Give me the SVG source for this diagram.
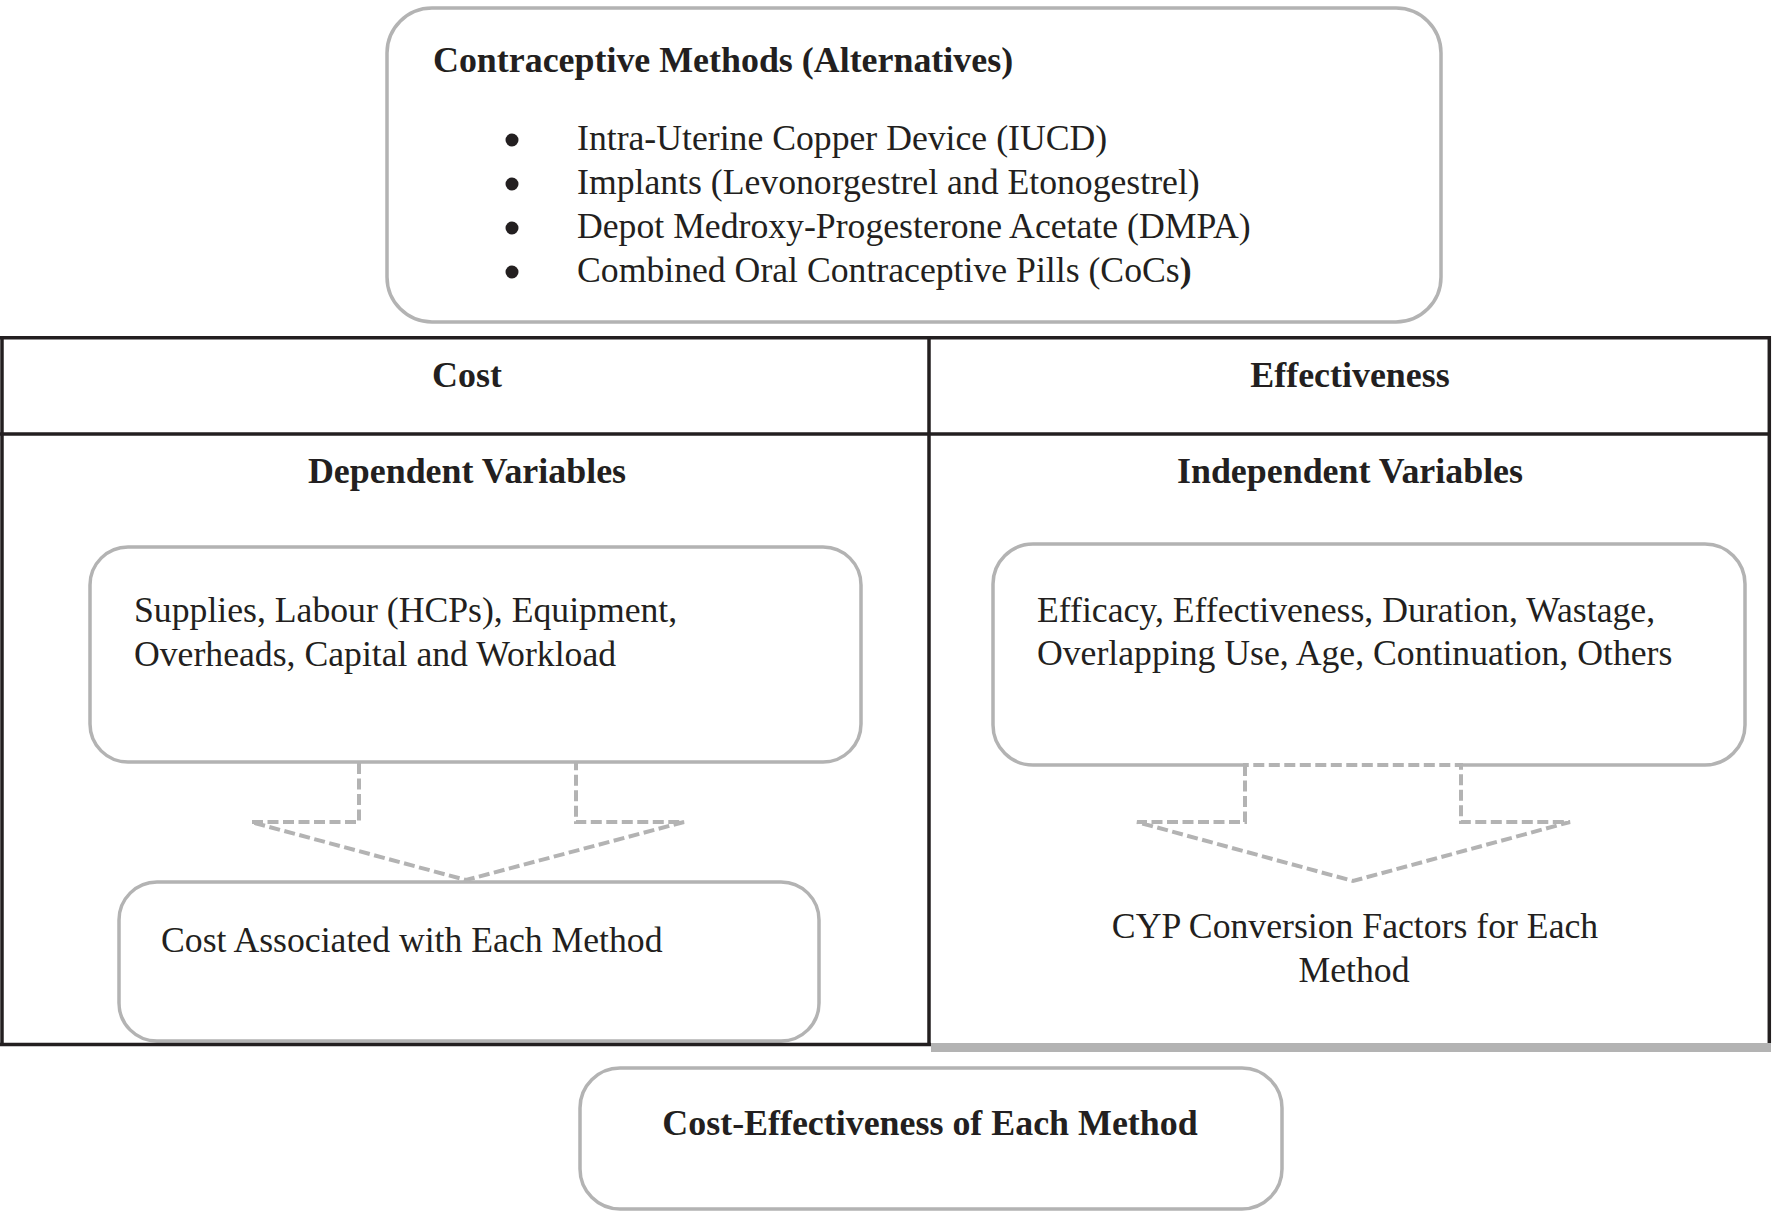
<svg xmlns="http://www.w3.org/2000/svg" width="1776" height="1212" viewBox="0 0 1776 1212">
<style>
  .box { fill: #ffffff; stroke: #b3b3b3; stroke-width: 3.5; }
  .tbl { stroke: #231f20; stroke-width: 3.5; fill: none; }
  .t { font-family: "Liberation Serif", "Times New Roman", serif; font-size: 35.7px; fill: #231f20; }
  .b { font-weight: bold; font-size: 35.9px; }
  .mid { text-anchor: middle; }
  .dash { fill: none; stroke: #b3b3b3; stroke-width: 4; stroke-dasharray: 11 4.5; }
</style>
<rect width="1776" height="1212" fill="#ffffff"/>

<g id="alternatives">
  <rect class="box" x="387" y="8" width="1054" height="314" rx="45" ry="45"/>
  <text class="t b" x="433" y="72">Contraceptive Methods (Alternatives)</text>
  <circle cx="512" cy="140" r="6.5" fill="#231f20"/>
  <circle cx="512" cy="184" r="6.5" fill="#231f20"/>
  <circle cx="512" cy="228" r="6.5" fill="#231f20"/>
  <circle cx="512" cy="272" r="6.5" fill="#231f20"/>
  <text class="t" x="577" y="150">Intra-Uterine Copper Device (IUCD)</text>
  <text class="t" x="577" y="194">Implants (Levonorgestrel and Etonogestrel)</text>
  <text class="t" x="577" y="238">Depot Medroxy-Progesterone Acetate (DMPA)</text>
  <text class="t" x="577" y="282">Combined Oral Contraceptive Pills (CoCs<tspan font-weight="bold">)</tspan></text>
</g>

<g id="table">
  <line class="tbl" x1="0" y1="337.7" x2="1771" y2="337.7"/>
  <line class="tbl" x1="0" y1="434" x2="1771" y2="434"/>
  <line class="tbl" x1="2" y1="336" x2="2" y2="1046"/>
  <line class="tbl" x1="929" y1="336" x2="929" y2="1046"/>
  <line class="tbl" x1="1769.3" y1="336" x2="1769.3" y2="1043"/>
  <text class="t b mid" x="467" y="387">Cost</text>
  <text class="t b mid" x="1350" y="387">Effectiveness</text>
  <text class="t b mid" x="467" y="483">Dependent Variables</text>
  <text class="t b mid" x="1350" y="483">Independent Variables</text>
</g>

<g id="cost-inputs">
  <rect class="box" x="90" y="547" width="771" height="215" rx="38" ry="38"/>
  <text class="t" x="134" y="622">Supplies, Labour (HCPs), Equipment,</text>
  <text class="t" x="134" y="666">Overheads, Capital and Workload</text>
</g>

<g id="cost-output">
  <rect class="box" x="119" y="882" width="700" height="159" rx="38" ry="38"/>
  <text class="t" x="161" y="952">Cost Associated with Each Method</text>
</g>

<g id="effect-inputs">
  <rect class="box" x="993" y="544" width="752" height="221" rx="40" ry="40"/>
  <text class="t" x="1037" y="622">Efficacy, Effectiveness, Duration, Wastage,</text>
  <text class="t" x="1037" y="665">Overlapping Use, Age, Continuation, Others</text>
</g>

<g id="effect-output">
  <text class="t mid" x="1355" y="938">CYP Conversion Factors for Each</text>
  <text class="t mid" x="1354" y="982">Method</text>
</g>

<g id="table-bottom">
  <line class="tbl" x1="0" y1="1044.5" x2="931" y2="1044.5"/>
  <rect x="931" y="1043" width="840" height="9" fill="#b3b3b3"/>
</g>

<g id="result">
  <rect class="box" x="580" y="1068" width="702" height="141" rx="40" ry="40"/>
  <text class="t b mid" x="930" y="1135">Cost-Effectiveness of Each Method</text>
</g>

<g id="connectors">
  <path class="dash" d="M359,763 V822 H251 L466,880 L684,822 H576 V763"/>
  <line x1="1247" y1="765" x2="1459" y2="765" stroke="#ffffff" stroke-width="6"/>
  <path class="dash" d="M1245,765 V822 H1137 L1353,881 L1570,822 H1461 V765 Z"/>
</g>
</svg>
